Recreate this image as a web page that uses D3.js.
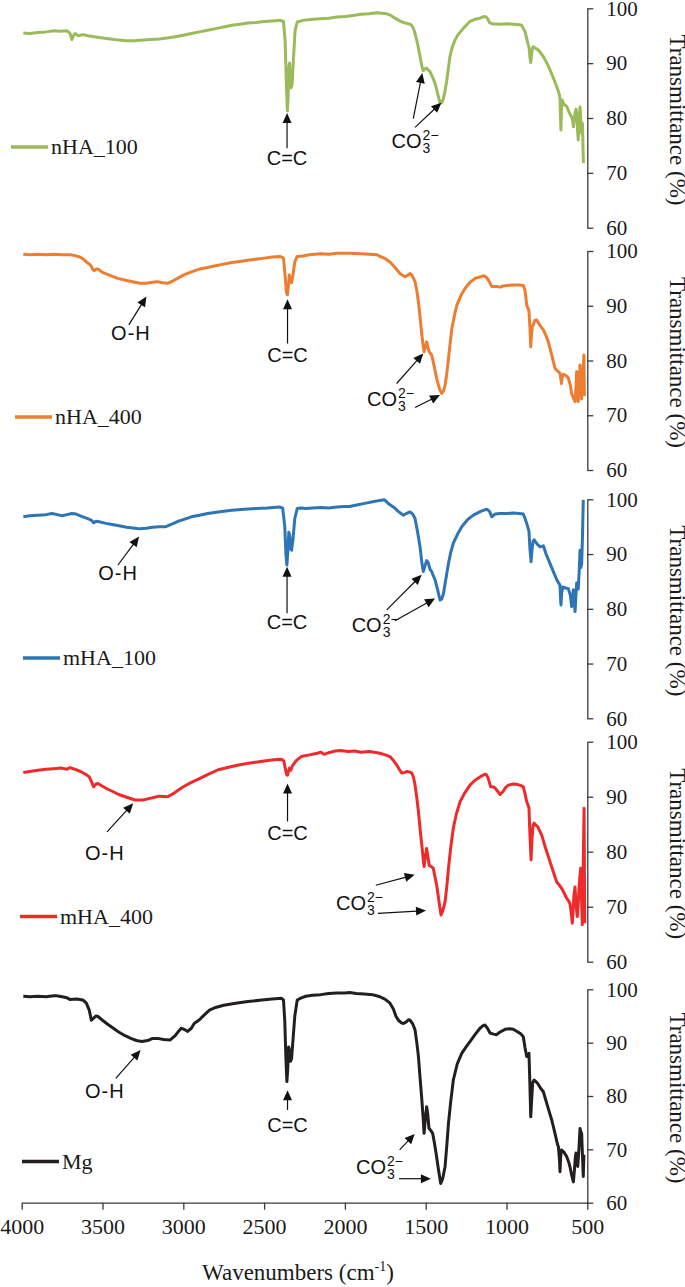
<!DOCTYPE html>
<html>
<head>
<meta charset="utf-8">
<script src="https://cdn.jsdelivr.net/npm/d3@7"></script>
<style>
  body { margin: 0; background: #fff; }
  .tick line, .domain { stroke: #3a3a3a; stroke-width: 1.3; }
  .tick text { font-family: "Liberation Serif", "Times New Roman", serif; font-size: 21px; fill: #1a1a1a; }
</style>
</head>
<body>
<svg id="chart" width="685" height="1287"></svg>
<script>
// series names / colours
var seriesNames = ["nHA_100", "nHA_400", "mHA_100", "mHA_400", "Mg"];
var seriesColors = ["#9BBB59", "#ED7D31", "#2E75B6", "#EE2A2A", "#231F20"];
var yTicks = [60, 70, 80, 90, 100];
var xTicks = [4000, 3500, 3000, 2500, 2000, 1500, 1000, 500];

// [wavenumber, transmittance]
var nha100Data = [[3990,95.5],[3950,95.4],[3900,95.6],[3850,95.7],[3800,95.9],[3760,95.8],[3720,95.9],[3700,95.4],[3690,94.3],[3680,95.0],[3670,95.4],[3650,95.0],[3620,95.2],[3590,95.0],[3550,94.8],[3500,94.6],[3450,94.4],[3400,94.2],[3350,94.1],[3300,94.1],[3250,94.2],[3200,94.3],[3150,94.4],[3100,94.6],[3050,94.8],[3000,95.1],[2950,95.4],[2900,95.7],[2850,96.0],[2800,96.3],[2750,96.6],[2700,96.9],[2650,97.1],[2600,97.3],[2550,97.4],[2500,97.6],[2450,97.7],[2400,97.8],[2380,97.6],[2370,94],[2362,86],[2356,81.3],[2351,84],[2346,89.5],[2342,90.0],[2338,87],[2333,85.5],[2327,86],[2318,91],[2308,96],[2295,97.5],[2260,97.8],[2200,98.0],[2150,98.1],[2100,98.2],[2050,98.4],[2000,98.5],[1950,98.7],[1900,98.9],[1850,99.0],[1800,99.2],[1770,99.1],[1740,99.0],[1715,98.7],[1690,98.2],[1660,97.7],[1638,97.4],[1610,97.2],[1590,97.0],[1575,96.3],[1566,95.4],[1550,93.5],[1535,91.2],[1522,89.2],[1515,88.6],[1505,89.0],[1494,89.1],[1483,88.7],[1473,88.4],[1458,87.5],[1442,86.3],[1425,84.3],[1411,82.7],[1400,82.8],[1390,83.6],[1380,85],[1370,86.8],[1360,89],[1350,91.2],[1335,93.0],[1319,94.2],[1300,95.2],[1277,96.0],[1250,96.9],[1226,97.6],[1195,98.0],[1164,98.2],[1140,98.5],[1125,98.4],[1115,98.0],[1105,97.4],[1090,97.2],[1040,97.1],[1000,97.2],[960,97.1],[920,97.0],[906,96.9],[895,96.3],[886,95.8],[875,94.5],[868,93.6],[860,92.8],[855,91],[850,90.1],[845,91.5],[840,92.6],[834,93.0],[820,92.7],[803,92.4],[790,91.9],[772,91.2],[750,90.0],[731,88.8],[710,87.3],[689,85.7],[675,84.5],[669,83.6],[666,80],[663,77.8],[660,81.5],[655,83.3],[645,82.5],[627,82.1],[612,81.0],[597,80.2],[590,79.5],[586,78.4],[580,80.0],[576,80.8],[570,81.6],[566,81.0],[560,77.5],[556,76.0],[551,79.5],[545,82.0],[541,80],[535,77.2],[530,79],[527,75],[524,71.8]];

var nha400Data = [[3990,99.4],[3950,99.3],[3900,99.4],[3850,99.3],[3800,99.4],[3750,99.3],[3700,99.3],[3676,99.2],[3650,99.0],[3622,98.6],[3600,98.0],[3580,97.6],[3569,97.2],[3560,96.6],[3550,96.4],[3540,96.7],[3528,96.7],[3500,96.1],[3450,95.5],[3406,95.0],[3350,94.6],[3300,94.3],[3271,94.1],[3230,94.1],[3190,94.3],[3160,94.4],[3130,94.2],[3096,94.1],[3060,94.6],[3030,95.1],[3000,95.6],[2950,96.2],[2900,96.7],[2850,97.0],[2800,97.3],[2750,97.6],[2700,97.9],[2650,98.1],[2600,98.3],[2550,98.5],[2500,98.7],[2450,98.9],[2400,99.0],[2380,98.7],[2370,95.5],[2362,92.5],[2356,92.0],[2350,93.5],[2344,95.6],[2338,94.6],[2330,94.2],[2322,95.5],[2310,98],[2295,99.0],[2260,99.1],[2220,99.3],[2150,99.5],[2100,99.4],[2050,99.6],[2000,99.6],[1971,99.6],[1900,99.5],[1850,99.4],[1800,99.3],[1783,99.0],[1750,98.6],[1721,98.0],[1690,97.0],[1659,95.9],[1640,95.5],[1628,95.3],[1610,95.6],[1596,95.9],[1586,95.6],[1566,94.4],[1555,92.8],[1545,90.7],[1535,88],[1524,84.7],[1515,82.5],[1510,81.6],[1503,82.5],[1494,83.4],[1486,82.3],[1478,81.6],[1463,81.0],[1450,79.3],[1432,76.7],[1415,74.8],[1401,74.0],[1390,74.4],[1380,75.5],[1370,77.5],[1359,80.4],[1348,83.3],[1338,85.9],[1320,88.5],[1307,90.1],[1280,92.0],[1256,93.2],[1225,94.3],[1194,95.0],[1160,95.3],[1140,95.5],[1125,95.2],[1112,94.7],[1100,94.0],[1091,93.5],[1060,93.5],[1040,93.4],[1020,93.6],[999,93.7],[960,93.8],[920,93.8],[896,93.7],[886,92.9],[880,91.5],[875,90.1],[866,89.5],[861,89.0],[855,86],[850,82.5],[846,84.5],[840,86.2],[834,86.5],[825,87.3],[813,87.4],[795,86.5],[772,85.6],[755,84.5],[741,83.4],[720,81.0],[700,78.6],[685,78.1],[669,77.7],[663,76.5],[660,75.8],[655,77.0],[648,77.5],[630,77.2],[618,76.8],[605,75.5],[597,74.0],[588,73.3],[576,72.5],[570,75],[566,78.0],[561,75],[556,72.5],[550,76],[545,79.2],[540,76],[535,73.0],[528,77],[521,81.0],[518,73.5]];

var mha100Data = [[3990,96.8],[3950,97.0],[3900,97.1],[3850,97.2],[3812,97.4],[3780,97.2],[3750,97.0],[3720,97.2],[3690,97.4],[3663,97.3],[3630,96.9],[3595,96.5],[3570,96.2],[3555,95.7],[3540,96.0],[3520,95.9],[3480,95.6],[3440,95.4],[3406,95.2],[3350,94.9],[3300,94.7],[3271,94.6],[3230,94.7],[3190,94.9],[3150,95.0],[3108,95.0],[3060,95.6],[3030,96.0],[3000,96.3],[2950,96.8],[2900,97.1],[2850,97.4],[2784,97.7],[2700,98.0],[2622,98.2],[2550,98.3],[2480,98.4],[2405,98.6],[2385,98.4],[2372,95],[2365,90],[2359,88.0],[2353,90.5],[2347,94.0],[2342,93.5],[2336,91.0],[2330,90.7],[2322,92.5],[2310,96.5],[2295,98.3],[2270,98.4],[2240,98.3],[2200,98.4],[2150,98.5],[2100,98.4],[2050,98.6],[2000,98.7],[1971,98.7],[1920,99.0],[1870,99.3],[1820,99.6],[1783,99.8],[1755,99.9],[1730,99.2],[1700,98.6],[1670,97.8],[1638,97.1],[1620,97.4],[1597,97.7],[1580,97.3],[1566,96.5],[1550,94.0],[1535,91.3],[1524,88.5],[1515,86.8],[1505,87.8],[1494,88.8],[1484,88.4],[1473,87.2],[1463,86.8],[1452,86.0],[1442,85.3],[1425,83.3],[1411,81.6],[1400,81.8],[1390,82.8],[1375,85.5],[1359,88.3],[1345,90.3],[1329,92.0],[1300,93.8],[1277,95.0],[1240,96.3],[1205,97.1],[1160,97.8],[1122,98.2],[1105,97.8],[1091,96.8],[1071,97.3],[1040,97.4],[1000,97.4],[960,97.5],[920,97.4],[896,97.3],[885,96.5],[875,95.6],[861,94.2],[855,91],[848,88.6],[843,90.5],[836,92.3],[829,92.6],[810,91.8],[792,91.3],[772,91.5],[755,90.0],[731,88.3],[710,86.8],[689,85.3],[675,84.6],[669,84.3],[665,81.5],[663,80.7],[658,83],[652,84.0],[635,83.8],[618,83.7],[605,82.5],[597,80.4],[592,82],[586,83.5],[580,81],[576,79.5],[571,82],[566,84.7],[556,83.6],[550,87],[545,90.7],[540,87.5],[535,88.2],[530,93],[525,99.9]];

var mha400Data = [[3990,94.4],[3950,94.6],[3900,94.8],[3850,95.0],[3800,95.1],[3758,95.2],[3720,95.0],[3700,95.3],[3663,94.9],[3630,94.5],[3600,94.0],[3582,93.6],[3565,92.5],[3555,91.8],[3540,92.3],[3528,92.4],[3500,91.9],[3470,91.4],[3433,90.9],[3400,90.4],[3350,89.9],[3298,89.4],[3250,89.4],[3220,89.6],[3190,89.8],[3150,90.1],[3096,90.0],[3060,90.6],[3030,91.2],[3000,91.8],[2950,92.6],[2900,93.3],[2850,94.0],[2784,94.9],[2700,95.5],[2650,95.8],[2595,96.1],[2500,96.5],[2440,96.7],[2392,96.8],[2378,96.5],[2368,95.0],[2360,94.0],[2355,93.9],[2349,94.6],[2343,95.2],[2335,94.8],[2325,95.6],[2300,96.6],[2270,97.3],[2220,97.6],[2170,97.9],[2148,98.1],[2130,97.7],[2100,98.0],[2060,98.3],[2026,98.4],[1980,98.2],[1940,98.3],[1900,98.1],[1850,98.2],[1800,98.0],[1783,97.9],[1750,97.6],[1721,97.3],[1700,96.6],[1680,95.8],[1660,94.8],[1649,94.3],[1630,94.4],[1617,94.6],[1600,94.5],[1586,94.3],[1575,93.5],[1566,92.1],[1555,89.8],[1545,87.3],[1535,84.2],[1524,81.2],[1515,78.5],[1510,77.3],[1503,79.0],[1494,80.6],[1486,79.0],[1478,77.5],[1465,77.3],[1453,77.0],[1443,75.5],[1432,73.9],[1418,71.0],[1405,68.5],[1395,69.2],[1380,70.9],[1370,73.5],[1359,77.0],[1345,80.8],[1329,84.3],[1310,86.9],[1287,89.1],[1260,90.6],[1226,92.1],[1195,93.0],[1164,93.6],[1140,94.0],[1127,94.1],[1115,93.5],[1105,92.5],[1098,91.8],[1085,91.8],[1071,91.6],[1055,91.0],[1040,90.4],[1020,91.0],[1005,91.7],[988,92.1],[958,92.3],[930,92.2],[910,92.0],[896,91.8],[885,90.5],[875,89.1],[861,88.0],[855,83],[848,78.5],[843,82],[836,84.8],[829,85.2],[818,84.8],[808,84.6],[795,83.8],[782,83.0],[760,80.8],[731,78.2],[710,76.3],[689,74.5],[675,74.0],[658,73.3],[640,72.3],[627,71.5],[615,71.0],[607,70.5],[600,69],[593,67.0],[588,69],[583,72],[576,73.6],[570,70.5],[562,68.2],[556,70.5],[550,74],[541,77.0],[536,72],[531,66.7],[526,76],[520,87.9],[516,67]];

var mgData = [[3990,98.7],[3950,98.6],[3900,98.7],[3850,98.6],[3800,98.8],[3784,98.8],[3750,98.6],[3720,98.4],[3702,98.1],[3660,98.2],[3622,98.0],[3600,97.4],[3582,96.1],[3569,94.2],[3555,94.6],[3540,95.0],[3528,94.9],[3500,94.2],[3470,93.5],[3433,92.7],[3400,92.0],[3360,91.3],[3325,90.8],[3290,90.4],[3257,90.2],[3220,90.4],[3190,90.8],[3162,90.8],[3120,90.6],[3081,90.5],[3050,91.3],[3030,92.1],[3013,92.7],[2995,92.5],[2973,92.1],[2950,92.7],[2933,93.6],[2900,94.3],[2870,95.2],[2838,96.1],[2800,96.6],[2750,97.0],[2676,97.4],[2600,97.7],[2514,98.0],[2450,98.2],[2392,98.3],[2380,98.0],[2372,94],[2365,87],[2359,82.7],[2354,85],[2348,89.2],[2343,88.5],[2337,86.5],[2330,87],[2320,91],[2310,95],[2295,98.0],[2270,98.4],[2242,98.7],[2200,98.9],[2150,99.0],[2100,99.2],[2050,99.3],[2000,99.3],[1971,99.4],[1930,99.2],[1880,99.1],[1830,99.0],[1783,98.6],[1750,98.1],[1721,97.4],[1700,96.3],[1685,95.0],[1669,94.2],[1650,93.7],[1638,93.6],[1620,93.9],[1605,94.3],[1597,94.2],[1580,93.5],[1566,92.4],[1555,90.0],[1545,87.4],[1535,83.5],[1524,79.3],[1515,75.5],[1510,73.0],[1503,75.5],[1494,78.0],[1487,76.5],[1480,74.0],[1468,73.5],[1457,73.0],[1446,71.2],[1436,69.3],[1420,66.0],[1407,63.6],[1395,64.5],[1380,66.8],[1370,70.5],[1359,74.9],[1345,79.0],[1329,83.0],[1305,86.0],[1277,88.0],[1250,89.2],[1226,90.2],[1195,91.5],[1164,92.7],[1145,93.2],[1133,93.3],[1118,92.7],[1102,91.8],[1080,91.6],[1061,91.5],[1040,92.0],[1020,92.3],[1009,92.5],[980,92.6],[958,92.5],[930,92.0],[910,91.6],[896,91.1],[885,89.0],[875,87.4],[861,88.0],[855,82],[850,76.1],[845,79],[838,82.5],[829,83.0],[818,82.7],[808,82.4],[790,81.5],[772,80.8],[745,78.0],[720,75.5],[700,73.0],[685,71.0],[679,70.5],[672,68],[669,65.8],[665,68.5],[660,69.9],[645,69.5],[627,68.6],[615,67.6],[607,66.7],[597,65.2],[590,64.3],[586,63.9],[580,66],[574,68.5],[570,69.3],[564,68],[559,66.8],[552,70],[545,73.9],[540,73.3],[535,73],[530,69],[525,64.9],[521,69]];

var seriesData = [nha100Data, nha400Data, mha100Data, mha400Data, mgData];

// annotation arrows per panel: [tail wn, tail T, tip wn, tip T]
var arrowData = [
  [[2358,74.5,2358,80.9],[1577,79.9,1521,88.2],[1566,78.3,1403,82.8]],
  [[3337,86.5,3228,91.7],[2355,83.1,2355,91.2],[1680,75.8,1515,81.3],[1566,71.4,1411,73.7]],
  [[3404,88.0,3274,93.2],[2358,79.2,2358,87.7],[1741,79.8,1525,86.2],[1690,77.8,1442,81.9]],
  [[3472,83.6,3310,88.8],[2355,85.5,2355,92.4],[1809,73.9,1568,75.8],[1796,68.8,1498,69.3]],
  [[3418,83.3,3264,88.6],[2355,77.4,2355,81.1],[1661,69.9,1568,72.9],[1665,64.5,1468,64.5]]
];
// annotation labels per panel: [text, wn, T (baseline)]
var labelData = [
  [["C=C",2358,71.4],["CO3",1711,74.5]],
  [["O-H",3324,83.7],["C=C",2355,79.8],["CO3",1863,71.6]],
  [["O-H",3404,85.3],["C=C",2358,76.4],["CO3",1958,75.8]],
  [["O-H",3486,78.5],["C=C",2355,82.1],["CO3",2055,69.4]],
  [["O-H",3486,79.6],["C=C",2355,73.3],["CO3",1931,65.4]]
];

// layout
var panelTop = [8.3, 251, 499.3, 741.7, 989.3];
var panelBottom = [227.7, 470, 718.3, 961.7, 1202.7];
var legendX = [11, 15, 23, 20, 22];
var legendY = [74.7, 69.7, 71.0, 68.2, 67.7];
var serif = '"Liberation Serif", "Times New Roman", serif';
var sans = '"Liberation Sans", Arial, sans-serif';

var svg = d3.select("#chart");
var x = d3.scaleLinear().domain([4000, 500]).range([21.7, 587.3]);

var line = d3.line();

function drawArrow(g, x1, y1, x2, y2) {
  var a = Math.atan2(y2 - y1, x2 - x1), len = 10, hw = 4.5;
  var bx = x2 - len * Math.cos(a), by = y2 - len * Math.sin(a);
  g.append("line")
    .attr("x1", x1).attr("y1", y1).attr("x2", bx + Math.cos(a)).attr("y2", by + Math.sin(a))
    .attr("stroke", "#111").attr("stroke-width", 1.2);
  var px = -Math.sin(a) * hw, py = Math.cos(a) * hw;
  g.append("path")
    .attr("d", "M" + x2 + "," + y2 + "L" + (bx + px) + "," + (by + py) + "L" + (bx - px) + "," + (by - py) + "Z")
    .attr("fill", "#111");
}

function drawCO3(g, px, py) {
  var t = g.append("text").attr("x", px).attr("y", py)
    .style("font-family", sans).style("font-size", "20px").attr("fill", "#111").text("CO");
  var w = t.node().getComputedTextLength();
  g.append("text").attr("x", px + w + 1).attr("y", py - 8)
    .style("font-family", sans).style("font-size", "14px").attr("fill", "#111").text("2\u2212");
  g.append("text").attr("x", px + w + 1).attr("y", py + 5)
    .style("font-family", sans).style("font-size", "14px").attr("fill", "#111").text("3");
}

seriesData.forEach(function (data, i) {
  var y = d3.scaleLinear().domain([60, 100]).range([panelBottom[i], panelTop[i]]);
  var g = svg.append("g").attr("class", "panel");

  // right axis
  g.append("g")
    .attr("transform", "translate(" + x(500) + ",0)")
    .call(d3.axisRight(y).tickValues(yTicks).tickSize(6).tickSizeOuter(0).tickPadding(13));

  g.append("text")
    .attr("transform", "translate(670," + ((panelTop[i] + panelBottom[i]) / 2 + 2) + ") rotate(90)")
    .attr("text-anchor", "middle")
    .style("font-family", serif).style("font-size", "23px").attr("fill", "#1a1a1a")
    .text("Transmittance (%)");

  // spectrum
  g.append("path")
    .attr("d", line.x(function (d) { return x(d[0]); }).y(function (d) { return y(d[1]); })(data))
    .attr("fill", "none")
    .attr("stroke", seriesColors[i])
    .attr("stroke-width", 3)
    .attr("stroke-linejoin", "round");

  // legend
  var ly = y(legendY[i]);
  g.append("line")
    .attr("x1", legendX[i]).attr("x2", legendX[i] + 37).attr("y1", ly).attr("y2", ly)
    .attr("stroke", seriesColors[i]).attr("stroke-width", 3.5);
  g.append("text")
    .attr("x", legendX[i] + 40).attr("y", ly + 7)
    .style("font-family", serif).style("font-size", "22px").attr("fill", "#1a1a1a")
    .text(seriesNames[i]);

  // annotations
  arrowData[i].forEach(function (a) {
    drawArrow(g, x(a[0]), y(a[1]), x(a[2]), y(a[3]));
  });
  labelData[i].forEach(function (l) {
    if (l[0] === "CO3") {
      drawCO3(g, x(l[1]), y(l[2]));
    } else {
      g.append("text")
        .attr("x", x(l[1])).attr("y", y(l[2]))
        .attr("text-anchor", "middle")
        .style("font-family", sans).style("font-size", "20px")
        .style("letter-spacing", l[0] === "O-H" ? "1px" : "0px")
        .attr("fill", "#111").text(l[0]);
    }
  });
});

// bottom axis
svg.append("g")
  .attr("transform", "translate(0," + panelBottom[4] + ")")
  .call(d3.axisBottom(x).tickValues(xTicks).tickSize(7).tickSizeOuter(0).tickPadding(9).tickFormat(d3.format("d")))
  .selectAll(".tick text").style("font-size", "22px");

var title = svg.append("text")
  .attr("x", 298).attr("y", 1280)
  .attr("text-anchor", "middle")
  .style("font-family", serif).style("font-size", "23px").attr("fill", "#1a1a1a");
title.append("tspan").text("Wavenumbers (cm");
title.append("tspan").attr("dy", -9).style("font-size", "14px").text("-1");
title.append("tspan").attr("dy", 9).text(")");
</script>
</body>
</html>
